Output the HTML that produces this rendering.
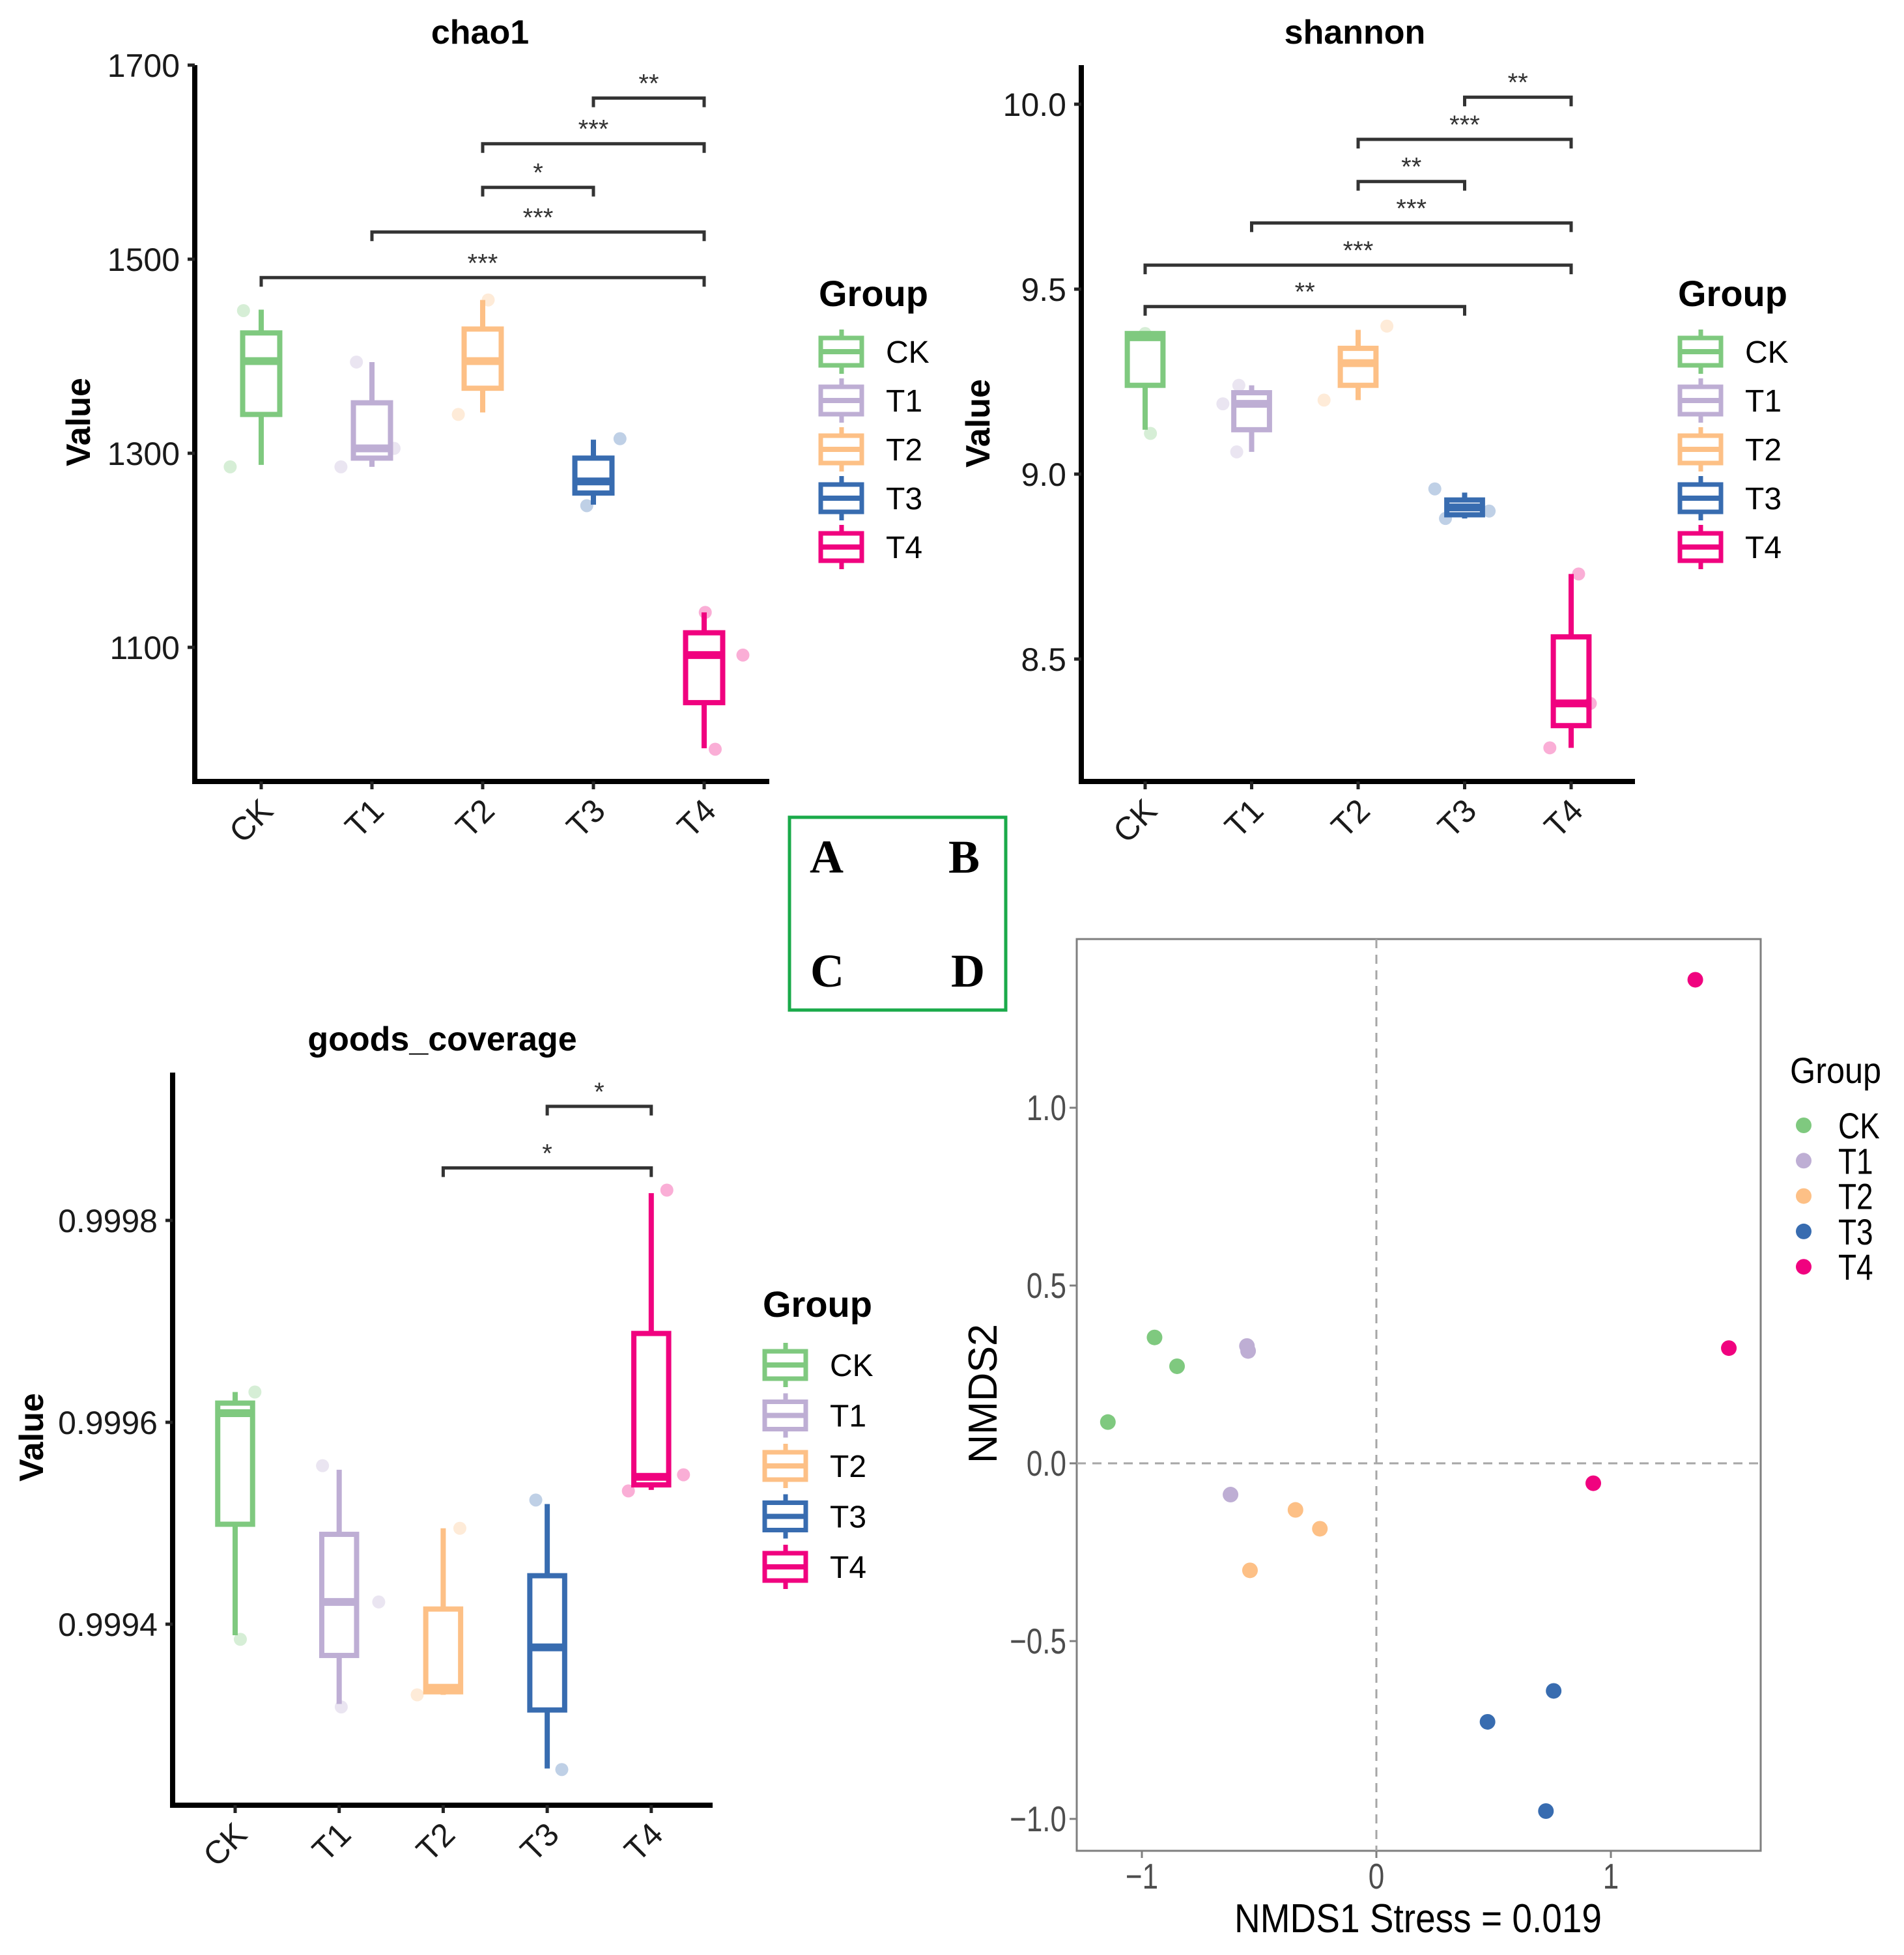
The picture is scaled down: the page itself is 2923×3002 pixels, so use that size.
<!DOCTYPE html>
<html><head><meta charset="utf-8"><style>
html,body{margin:0;padding:0;background:#fff;}
svg{display:block;font-family:"Liberation Sans",Arial,sans-serif;}
</style></head><body>
<svg id="root" xmlns="http://www.w3.org/2000/svg" width="2923" height="3002" viewBox="0 0 2923 3002">
<rect x="0" y="0" width="2923" height="3002" fill="#fff"/>
</svg>
<script>
const cats=['CK','T1','T2','T3','T4'];
const groupColors=['#7fc97f','#beaed4','#fdc086','#386cb0','#f0027f'];

// chao1
const chao1Low=[1288,1286,1342,1247,996];
const chao1Q1=[1340,1295,1367,1259,1043];
const chao1Med=[1395,1305,1395,1271,1092];
const chao1Q3=[1424,1352,1428,1295,1115];
const chao1High=[1448,1394,1458,1314,1136];
const chao1Pts=[[1447,1286],[1394,1286,1305],[1458,1340],[1315,1246],[1136,1092,995]];
const chao1Jit=[[-0.16,-0.28],[-0.14,-0.28,0.2],[0.05,-0.22],[0.24,-0.06],[0.01,0.35,0.1]];
const chao1Br=[[3,4,1666],[2,4,1619],[2,3,1574],[1,4,1528],[0,4,1481]];
const chao1Stars=['**','***','*','***','***'];
const chao1Ticks=[1100,1300,1500,1700];

// shannon
const shanLow=[9.12,9.06,9.20,8.88,8.26];
const shanQ1=[9.24,9.12,9.24,8.89,8.32];
const shanMed=[9.37,9.19,9.30,8.91,8.38];
const shanQ3=[9.38,9.22,9.34,8.93,8.56];
const shanHigh=[9.38,9.24,9.39,8.95,8.73];
const shanPts=[[9.11,9.38],[9.19,9.06,9.24],[9.20,9.40],[8.96,8.88,8.90],[8.73,8.26,8.38]];
const shanJit=[[0.05,0],[-0.27,-0.14,-0.12],[-0.32,0.27],[-0.28,-0.18,0.23],[0.07,-0.2,0.18]];
const shanBr=[[3,4,10.019],[2,4,9.905],[2,3,9.791],[1,4,9.679],[0,4,9.565],[0,3,9.453]];
const shanStars=['**','***','**','***','***','**'];
const shanTicks=[8.5,9.0,9.5,10.0];
const shanTickLabels=['8.5','9.0','9.5','10.0'];

// goods_coverage
const goodLow=[0.999389,0.999321,0.99933,0.999257,0.999533];
const goodQ1=[0.999499,0.999369,0.999333,0.999315,0.999538];
const goodMed=[0.999609,0.999422,0.999337,0.999377,0.999546];
const goodQ3=[0.999619,0.999489,0.999415,0.999448,0.999688];
const goodHigh=[0.99963,0.999553,0.999495,0.999519,0.999827];
const goodPts=[[0.99963,0.999385],[0.999557,0.999318,0.999422],[0.99933,0.999495],[0.999523,0.999256],[0.99983,0.999548,0.999532]];
const goodJit=[[0.19,0.05],[-0.16,0.02,0.38],[-0.25,0.16],[-0.11,0.14],[0.15,0.31,-0.22]];
const goodBr=[[3,4,0.999913],[2,4,0.999852]];
const goodStars=['*','*'];
const goodTicks=[0.9994,0.9996,0.9998];

// NMDS
const nmdsGroup=[0,0,0,1,1,1,2,2,2,3,3,3,4,4,4];
const nmds1=[-0.946,-0.850,-1.145,-0.552,-0.547,-0.622,-0.345,-0.241,-0.539,0.756,0.474,0.723,1.360,1.503,0.925];
const nmds2=[0.354,0.273,0.116,0.330,0.316,-0.088,-0.131,-0.184,-0.301,-0.640,-0.727,-0.978,1.360,0.324,-0.056];
const nmdsXTicks=[-1,0,1];
const nmdsXTickLabels=['\u22121','0','1'];
const nmdsYTicks=[-1.0,-0.5,0.0,0.5,1.0];
const nmdsYTickLabels=['\u22121.0','\u22120.5','0.0','0.5','1.0'];

const NS='http://www.w3.org/2000/svg';
const root=document.getElementById('root');
function mk(tag,attrs,parent,text){
  const e=document.createElementNS(NS,tag);
  for(const k in attrs)e.setAttribute(k,attrs[k]);
  if(text!==undefined)e.textContent=text;
  (parent||root).appendChild(e);return e;
}

function boxPanel(P){
  const g=mk('g',{});
  
  
  const y=v=>P.y0+(v-P.v0)*(P.y1-P.y0)/(P.v1-P.v0);
  const x=i=>P.cx0+i*P.step;
  const bw=P.step*0.335;
  const t=mk('text',{x:P.titleX,y:P.titleY,'font-size':52,'font-weight':'bold','text-anchor':'middle',fill:'#000'},g,P.title);
  
  
  const yl=mk('text',{transform:`translate(${P.ylX},${P.ylY}) rotate(-90)`,'font-size':52,'font-weight':'bold','text-anchor':'middle',fill:'#000'},g,'Value');
  
  
  const ax=mk('path',{d:`M${P.axX},${P.axTop} L${P.axX},${P.axY} L${P.axR},${P.axY}`,fill:'none',stroke:'#000','stroke-width':8},g);
  
  
  P.ticks.forEach((v,k)=>{
    mk('line',{x1:P.axX-11,x2:P.axX,y1:y(v),y2:y(v),stroke:'#222','stroke-width':5},g);
    const tl=mk('text',{x:P.axX-23,y:y(v)+18,'font-size':50,'text-anchor':'end',fill:'#1a1a1a'},g,P.tickLabels?P.tickLabels[k]:String(v));
    
    
  });
  cats.forEach((c,i)=>{
    mk('line',{x1:x(i),x2:x(i),y1:P.axY,y2:P.axY+12,stroke:'#222','stroke-width':5},g);
    const xl=mk('text',{transform:`translate(${x(i)+21},${P.axY+48}) rotate(-45)`,'font-size':50,'text-anchor':'end',fill:'#1a1a1a'},g,c);
    
    
  });
  P.br.forEach((b,k)=>{
    const yy=y(b[2]);
    const bp=mk('path',{d:`M${x(b[0])},${yy+14} L${x(b[0])},${yy} L${x(b[1])},${yy} L${x(b[1])},${yy+14}`,fill:'none',stroke:'#333','stroke-width':5},g);
    
    
    const st=mk('text',{x:(x(b[0])+x(b[1]))/2,y:yy-9,'font-size':40,'text-anchor':'middle',fill:'#333'},g,P.stars[k]);
    
    
  });
  cats.forEach((c,i)=>{
    const col=groupColors[i];
    const bg=mk('g',{},g);
    
    
    mk('line',{x1:x(i),x2:x(i),y1:y(P.high[i]),y2:y(P.q3[i]),stroke:col,'stroke-width':8},bg);
    mk('line',{x1:x(i),x2:x(i),y1:y(P.q1[i]),y2:y(P.low[i]),stroke:col,'stroke-width':8},bg);
    const top=Math.min(y(P.q3[i]),y(P.q1[i])),h=Math.abs(y(P.q1[i])-y(P.q3[i]));
    mk('rect',{x:x(i)-bw/2,y:top,width:bw,height:Math.max(h,1),fill:'#fff',stroke:col,'stroke-width':8},bg);
    mk('line',{x1:x(i)-bw/2,x2:x(i)+bw/2,y1:y(P.med[i]),y2:y(P.med[i]),stroke:col,'stroke-width':12},bg);
    P.pts[i].forEach((v,j)=>{
      const p=mk('circle',{cx:x(i)+P.jit[i][j]*P.step,cy:y(v),r:10,fill:col,'fill-opacity':0.32},bg);
      
      
    });
  });
  const lg=mk('g',{},g);
  
  
  mk('text',{x:P.legX-3,y:P.legTitleY,'font-size':56,'font-weight':'bold',fill:'#000'},lg,'Group');
  cats.forEach((c,i)=>{
    const cy=P.legY0+i*P.legStep,col=groupColors[i],kx=P.legX;
    const e=mk('g',{},lg);
    
    
    mk('line',{x1:kx+32,x2:kx+32,y1:cy-34,y2:cy+34,stroke:col,'stroke-width':7},e);
    mk('rect',{x:kx,y:cy-21,width:63,height:42,fill:'#fff',stroke:col,'stroke-width':7},e);
    mk('line',{x1:kx,x2:kx+63,y1:cy,y2:cy,stroke:col,'stroke-width':8},e);
    mk('text',{x:kx+100,y:cy+17,'font-size':48,fill:'#000'},e,c);
  });
}

boxPanel({name:'chao1-panel',title:'chao1',titleX:737,titleY:67,ylX:138,ylY:648,
  v0:1700,y0:100,v1:1100,y1:994,cx0:401,step:170,axX:299,axTop:100,axY:1200,axR:1181,
  ticks:chao1Ticks,low:chao1Low,q1:chao1Q1,med:chao1Med,q3:chao1Q3,high:chao1High,pts:chao1Pts,jit:chao1Jit,
  br:chao1Br,stars:chao1Stars,legX:1260,legTitleY:470,legY0:540,legStep:75});
boxPanel({name:'shannon-panel',title:'shannon',titleX:2080,titleY:67,ylX:1519,ylY:650,
  v0:10.0,y0:160,v1:8.5,y1:1012,cx0:1758,step:163.5,axX:1660,axTop:100,axY:1200,axR:2510,
  ticks:shanTicks,tickLabels:shanTickLabels,low:shanLow,q1:shanQ1,med:shanMed,q3:shanQ3,high:shanHigh,pts:shanPts,jit:shanJit,
  br:shanBr,stars:shanStars,legX:2579,legTitleY:470,legY0:540,legStep:75});
boxPanel({name:'goods-coverage-panel',title:'goods_coverage',titleX:679,titleY:1613,ylX:66,ylY:2207,
  v0:0.9998,y0:1874,v1:0.9994,y1:2494,cx0:361,step:159.7,axX:265,axTop:1647,axY:2772,axR:1094,
  ticks:goodTicks,low:goodLow,q1:goodQ1,med:goodMed,q3:goodQ3,high:goodHigh,pts:goodPts,jit:goodJit,
  br:goodBr,stars:goodStars,legX:1174,legTitleY:2022,legY0:2096,legStep:77.5});

(function(){
  const g=mk('g',{});
  
  
  const L=1653,T=1442,R=2703,B=2842;
  const sx=v=>2113+v*360, sy=v=>2247-v*546;
  const fr=mk('rect',{x:L,y:T,width:R-L,height:B-T,fill:'#fff',stroke:'#7f7f7f','stroke-width':3},g);
  
  
  const vz=mk('line',{x1:sx(0),x2:sx(0),y1:T,y2:B,stroke:'#a6a6a6','stroke-width':3,'stroke-dasharray':'14,10'},g);
  
  
  const hz=mk('line',{x1:L,x2:R,y1:sy(0),y2:sy(0),stroke:'#a6a6a6','stroke-width':3,'stroke-dasharray':'14,10'},g);
  
  
  nmdsXTicks.forEach((v,k)=>{
    mk('line',{x1:sx(v),x2:sx(v),y1:B,y2:B+11,stroke:'#7f7f7f','stroke-width':3},g);
    const t=mk('text',{transform:`translate(${sx(v)},2900) scale(0.8,1)`,'font-size':55,'text-anchor':'middle',fill:'#4d4d4d'},g,nmdsXTickLabels[k]);
    
    
  });
  nmdsYTicks.forEach((v,k)=>{
    mk('line',{x1:L-11,x2:L,y1:sy(v),y2:sy(v),stroke:'#7f7f7f','stroke-width':3},g);
    const t=mk('text',{transform:`translate(1637,${sy(v)+19}) scale(0.8,1)`,'font-size':55,'text-anchor':'end',fill:'#4d4d4d'},g,nmdsYTickLabels[k]);
    
    
  });
  const xt=mk('text',{x:2177,y:2967,'font-size':62,'text-anchor':'middle',fill:'#000',textLength:564,lengthAdjust:'spacingAndGlyphs'},g,'NMDS1  Stress = 0.019');
  
  
  const yt=mk('text',{transform:'translate(1530,2140) rotate(-90)','font-size':62,'text-anchor':'middle',fill:'#000',textLength:214,lengthAdjust:'spacingAndGlyphs'},g,'NMDS2');
  
  
  nmds1.forEach((v,i)=>{
    const p=mk('circle',{cx:sx(v),cy:sy(nmds2[i]),r:12,fill:groupColors[nmdsGroup[i]]},g);
    
    
  });
  const lg=mk('g',{},g);
  
  
  mk('text',{transform:'translate(2748,1663) scale(0.9,1)','font-size':56,fill:'#000'},lg,'Group');
  cats.forEach((c,i)=>{
    const cy=1728+i*54.3;
    const e=mk('g',{},lg);
    
    
    mk('circle',{cx:2769,cy:cy,r:12,fill:groupColors[i]},e);
    mk('text',{transform:`translate(2822,${cy+20}) scale(0.82,1)`,'font-size':56,fill:'#000'},e,c);
  });
})();

(function(){
  const g=mk('g',{});
  
  
  mk('rect',{x:1212,y:1255,width:332,height:296,fill:'#fff',stroke:'#1aaa4a','stroke-width':5},g);
  const f={'font-family':'"Liberation Serif",serif','font-weight':'bold','font-size':72,fill:'#000'};
  [['A',1243,1340],['B',1456,1340],['C',1244,1515],['D',1460,1515]].forEach(a=>{
    const t=mk('text',Object.assign({x:a[1],y:a[2]},f),g,a[0]);
    
    
  });
})();
</script>
</body></html>
